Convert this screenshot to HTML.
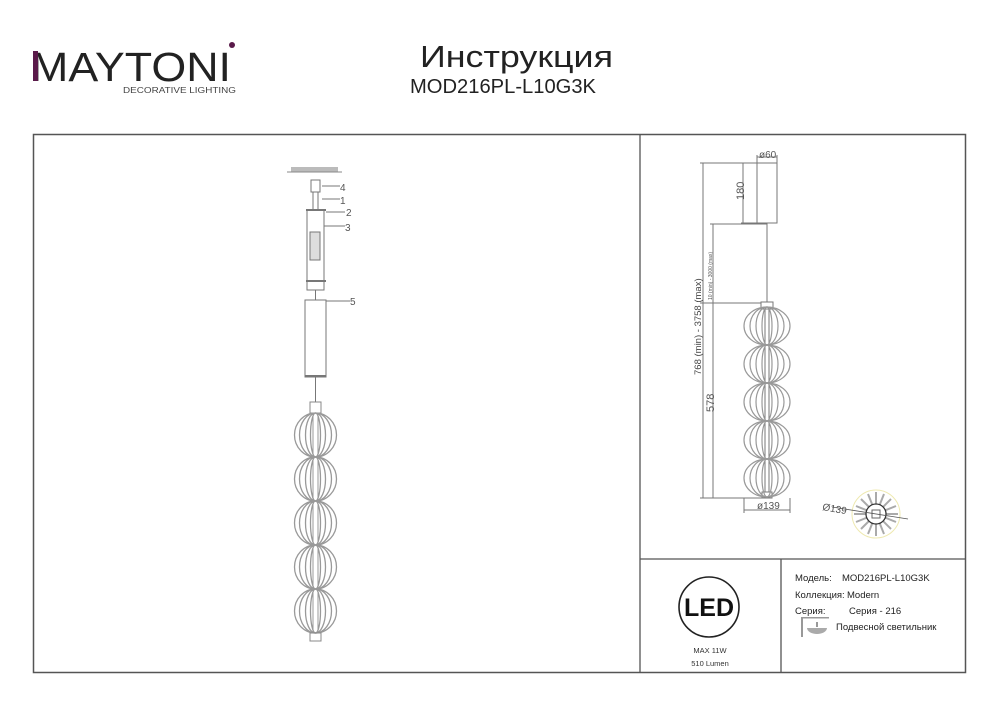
<!DOCTYPE html>
<html><head><meta charset="utf-8"><style>
html,body{margin:0;padding:0;background:#fff;}
svg{display:block;}
text{font-family:"Liberation Sans",sans-serif;}
</style></head><body>
<svg width="1000" height="707" viewBox="0 0 1000 707" xmlns="http://www.w3.org/2000/svg">
<defs>
<g id="sL" fill="none" stroke="#999" stroke-width="1.3">
<ellipse cx="0" cy="0" rx="21" ry="22"/>
<ellipse cx="0" cy="0" rx="16" ry="22"/>
<ellipse cx="0" cy="0" rx="10" ry="22"/>
<ellipse cx="0" cy="0" rx="5" ry="22"/>
</g>
<g id="sR" fill="none" stroke="#999" stroke-width="1.2">
<ellipse cx="0" cy="0" rx="23" ry="19"/>
<ellipse cx="0" cy="0" rx="17" ry="19"/>
<ellipse cx="0" cy="0" rx="11" ry="19"/>
<ellipse cx="0" cy="0" rx="5" ry="19"/>
</g>
</defs>
<!-- header -->
<text x="31" y="81" font-size="41" fill="#222" textLength="200" lengthAdjust="spacingAndGlyphs">MAYTONI</text>
<rect x="33" y="51" width="5" height="30" fill="#5a1a4a"/>
<circle cx="232" cy="45" r="3" fill="#5a1a4a"/>
<text x="123" y="93" font-size="8.5" fill="#444" textLength="113" lengthAdjust="spacingAndGlyphs">DECORATIVE LIGHTING</text>
<text x="420" y="67" font-size="31" fill="#222" textLength="193" lengthAdjust="spacingAndGlyphs">Инструкция</text>
<text x="410" y="93" font-size="20" fill="#222" textLength="186" lengthAdjust="spacingAndGlyphs">MOD216PL-L10G3K</text>
<!-- frame -->
<rect x="33.5" y="134.5" width="932" height="538" fill="none" stroke="#555" stroke-width="1.5"/>
<line x1="640" y1="134" x2="640" y2="673" stroke="#555" stroke-width="1.3"/>
<line x1="640" y1="559" x2="966" y2="559" stroke="#555" stroke-width="1.3"/>
<line x1="781" y1="559" x2="781" y2="673" stroke="#555" stroke-width="1.3"/>
<!-- left assembly -->
<rect x="291" y="167" width="47" height="5" fill="#bbb"/>
<line x1="287" y1="172" x2="342" y2="172" stroke="#888"/>
<g stroke="#777" fill="none" stroke-width="1">
<rect x="311" y="180" width="9" height="12"/>
<line x1="313" y1="192" x2="313" y2="210"/><line x1="318" y1="192" x2="318" y2="210"/>
<rect x="307" y="210" width="17" height="80"/>
<rect x="310" y="232" width="10" height="28" fill="#ddd"/>
<line x1="306" y1="210" x2="326" y2="210" stroke-width="2"/>
<line x1="306" y1="281" x2="326" y2="281" stroke-width="2"/>
<rect x="305" y="300" width="21" height="77"/>
<line x1="315.5" y1="290" x2="315.5" y2="300"/>
<line x1="315.5" y1="377" x2="315.5" y2="402"/>
<line x1="305" y1="376" x2="326" y2="376" stroke-width="2"/>
<line x1="322" y1="186" x2="340" y2="186"/>
<line x1="322" y1="199" x2="340" y2="199"/>
<line x1="326" y1="212" x2="345" y2="212"/>
<line x1="324" y1="226" x2="345" y2="226"/>
<line x1="326" y1="301" x2="350" y2="301"/>
</g>
<g font-family="Liberation Serif" font-size="10" fill="#555">
<text x="340" y="191">4</text><text x="340" y="204">1</text><text x="346" y="216">2</text><text x="345" y="231">3</text><text x="350" y="305">5</text>
</g>
<rect x="310" y="402" width="11" height="11" fill="none" stroke="#888"/>
<use href="#sL" x="315.5" y="435"/>
<use href="#sL" x="315.5" y="479"/>
<use href="#sL" x="315.5" y="523"/>
<use href="#sL" x="315.5" y="567"/>
<use href="#sL" x="315.5" y="611"/>
<line x1="313" y1="413" x2="313" y2="633" stroke="#999"/>
<line x1="318" y1="413" x2="318" y2="633" stroke="#999"/>
<rect x="310" y="633" width="11" height="8" fill="none" stroke="#888"/>
<!-- right drawing -->
<g stroke="#777" fill="none" stroke-width="1">
<rect x="757" y="163" width="20" height="60"/>
<line x1="767" y1="223" x2="767" y2="302"/>
<rect x="761" y="302" width="12" height="7"/>
<rect x="762" y="492" width="10" height="6"/>
<line x1="765" y1="309" x2="765" y2="492"/><line x1="769" y1="309" x2="769" y2="492"/>
<line x1="700" y1="163" x2="757" y2="163"/>
<line x1="741" y1="223" x2="757" y2="223"/>
<line x1="710" y1="224" x2="767" y2="224"/>
<line x1="700" y1="303" x2="761" y2="303"/>
<line x1="700" y1="498" x2="762" y2="498"/>
<line x1="703" y1="163" x2="703" y2="498"/>
<line x1="713" y1="224" x2="713" y2="498"/>
<line x1="743" y1="163" x2="743" y2="223"/>
<line x1="757" y1="155" x2="757" y2="163"/><line x1="777" y1="155" x2="777" y2="163"/>
<line x1="757" y1="157" x2="777" y2="157"/>
<line x1="744" y1="498" x2="744" y2="513"/><line x1="790" y1="498" x2="790" y2="513"/>
<line x1="744" y1="510" x2="790" y2="510"/>
</g>
<use href="#sR" x="767" y="326"/>
<use href="#sR" x="767" y="364"/>
<use href="#sR" x="767" y="402"/>
<use href="#sR" x="767" y="440"/>
<use href="#sR" x="767" y="478"/>
<g font-family="Liberation Serif" fill="#555">
<text x="759" y="158" font-size="10">ø60</text>
<text x="757" y="509" font-size="10">ø139</text>
<text transform="translate(744,200) rotate(-90)" font-size="11">180</text>
<text transform="translate(714,412) rotate(-90)" font-size="11">578</text>
<text x="822" y="510" font-size="10" transform="rotate(10 822 510)">Ø139</text>
</g>
<text transform="translate(701,375) rotate(-90)" font-size="9.5" fill="#444">768 (min) - 3758 (max)</text>
<text transform="translate(712,300) rotate(-90)" font-size="5" fill="#555">10 (min) - 3000 (max)</text>
<!-- bottom view -->
<circle cx="876" cy="514" r="24" fill="none" stroke="#eee9b0" stroke-width="1"/>
<g stroke="#aaa" stroke-width="2">
<line x1="876" y1="492" x2="876" y2="536"/>
<line x1="854" y1="514" x2="898" y2="514"/>
<line x1="861" y1="499" x2="891" y2="529"/>
<line x1="891" y1="499" x2="861" y2="529"/>
<line x1="868" y1="494" x2="884" y2="534"/>
<line x1="884" y1="494" x2="868" y2="534"/>
<line x1="856" y1="506" x2="896" y2="522"/>
<line x1="856" y1="522" x2="896" y2="506"/>
</g>
<circle cx="876" cy="514" r="10" fill="#fff" stroke="#333" stroke-width="1.3"/>
<rect x="872" y="510" width="8" height="8" fill="none" stroke="#666"/>
<line x1="832" y1="507" x2="908" y2="519" stroke="#555" stroke-width="0.8"/>
<!-- LED block -->
<circle cx="709" cy="607" r="30" fill="none" stroke="#222" stroke-width="1.6"/>
<text x="709" y="616" font-size="25" font-weight="bold" text-anchor="middle" fill="#111">LED</text>
<text x="710" y="653" font-size="7.5" text-anchor="middle" fill="#333">MAX 11W</text>
<text x="710" y="666" font-size="7.5" text-anchor="middle" fill="#333">510 Lumen</text>
<g font-size="9.5" fill="#222">
<text x="795" y="581">Модель:</text><text x="842" y="581">MOD216PL-L10G3K</text>
<text x="795" y="598">Коллекция:</text><text x="847" y="598">Modern</text>
<text x="795" y="614">Серия:</text><text x="849" y="614">Серия - 216</text>
<text x="836" y="630">Подвесной светильник</text>
</g>
<g fill="#999"><rect x="801" y="617" width="2" height="20"/><rect x="801" y="617" width="28" height="1.5"/>
<path d="M807 628 h20 a10 6 0 0 1 -20 0z" fill="#aaa"/><rect x="816" y="622" width="2" height="5"/></g>
</svg>
</body></html>
